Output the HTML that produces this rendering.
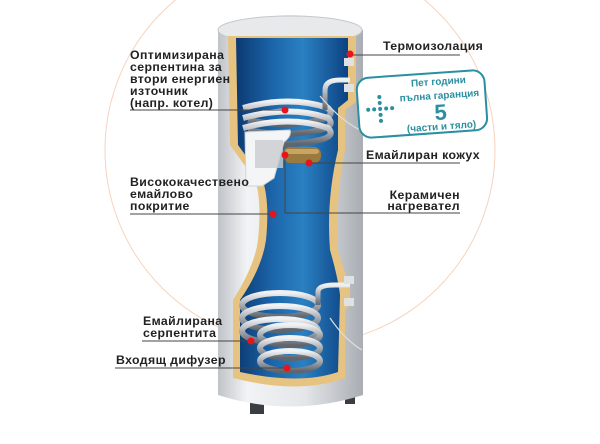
<!DOCTYPE html>
<html><head><meta charset="utf-8"><style>
html,body{margin:0;padding:0;background:#fff}
svg{display:block}
text{font-family:"Liberation Sans",sans-serif;font-weight:bold;fill:#222;font-size:12.3px;letter-spacing:0.4px}
</style></head><body>
<svg width="600" height="444" viewBox="0 0 600 444" xmlns="http://www.w3.org/2000/svg">
<defs>
<linearGradient id="shell" x1="0" x2="1">
<stop offset="0" stop-color="#bfc3c8"/><stop offset="0.2" stop-color="#f2f3f5"/><stop offset="0.6" stop-color="#e4e6e9"/><stop offset="1" stop-color="#a9adb3"/></linearGradient>
<linearGradient id="blue" x1="0" x2="1">
<stop offset="0" stop-color="#0b3a72"/><stop offset="0.35" stop-color="#1d68ad"/><stop offset="0.6" stop-color="#2a80c2"/><stop offset="1" stop-color="#0c4282"/></linearGradient>
<linearGradient id="coil" x1="0" x2="0" y1="0" y2="1">
<stop offset="0" stop-color="#f0f1f3"/><stop offset="0.5" stop-color="#a6abb2"/><stop offset="1" stop-color="#5f656d"/></linearGradient>
</defs>
<circle cx="300" cy="150" r="195" fill="none" stroke="#f6d3bf" stroke-width="1"/>
<rect x="250" y="400" width="14" height="14" fill="#3a3d42"/>
<rect x="345" y="392" width="10" height="12" fill="#3a3d42"/>
<path d="M218 30 Q290 0 363 30 L363 395 Q290 418 218 395 Z" fill="url(#shell)"/>
<ellipse cx="290" cy="30" rx="72" ry="14" fill="#e8e9eb" stroke="#c5c8cc"/>
<path d="M228 36 L356 36 L356 102 L345 110 L345 150 Q335 200 338 250 Q345 275 350 285 L350 305 L345 310 L345 378 Q300 395 233 378 L233 300 Q255 265 258 240 Q262 200 255 180 L230 145 Z" fill="#e7c382"/>
<path d="M236 38 L348 38 L348 100 L338 108 L338 150 Q326 200 330 250 Q338 278 340 295 L338 372 Q300 385 240 372 L240 300 Q262 268 266 240 Q270 200 262 178 L238 145 Z" fill="url(#blue)"/>
<g fill="none" stroke="url(#coil)" stroke-width="6">
<path d="M243 108 Q290 95 328 108 Q336 116 320 120 Q285 128 248 120"/>
<path d="M243 118 Q290 105 328 118 Q336 126 320 130 Q285 138 248 130"/>
<path d="M243 128 Q290 115 328 128 Q336 136 320 140 Q285 148 248 140"/>
<path d="M325 110 L325 90 Q325 80 340 80 L350 80" stroke-width="5"/>
</g>
<path d="M245 132 L290 130 Q292 136 284 142 L274 178 L262 186 L246 186 Z" fill="#f4f5f6" stroke="#d0d3d6"/>
<rect x="255" y="140" width="28" height="28" fill="#c9ccd0" opacity="0.8"/>
<rect x="283" y="147" width="38" height="16" rx="7" fill="#9a7a3e"/>
<rect x="285" y="149" width="34" height="5" rx="3" fill="#c8a560"/>
<g fill="none" stroke="url(#coil)" stroke-width="6">
<ellipse cx="280" cy="305" rx="38" ry="12"/>
<ellipse cx="280" cy="318" rx="38" ry="12"/>
<ellipse cx="280" cy="331" rx="38" ry="12"/>
<ellipse cx="290" cy="335" rx="30" ry="10"/>
<ellipse cx="290" cy="348" rx="30" ry="10"/>
<ellipse cx="290" cy="361" rx="30" ry="10"/>
<path d="M318 305 L318 292 Q318 285 335 285 L350 285" stroke-width="5"/>
</g>
<g fill="#dfe2e5">
<rect x="344" y="58" width="10" height="8"/><rect x="344" y="84" width="10" height="8"/>
<rect x="344" y="276" width="10" height="8"/><rect x="344" y="298" width="10" height="8"/>
</g>
<path d="M320 96 Q340 120 360 130" fill="none" stroke="#ddd" stroke-width="1.2"/>
<path d="M330 318 Q345 340 362 350" fill="none" stroke="#ddd" stroke-width="1.2"/>
<g stroke="#444" stroke-width="1" fill="none">
<line x1="350" y1="55" x2="460" y2="55"/>
<line x1="130" y1="110" x2="285" y2="110"/>
<line x1="309" y1="163" x2="460" y2="163"/>
<line x1="130" y1="214" x2="273" y2="214"/>
<polyline points="285,155 285,213 460,213"/>
<line x1="142" y1="341" x2="251" y2="341"/>
<line x1="115" y1="368" x2="287" y2="368"/>
</g>
<g fill="#e8141c">
<circle cx="350" cy="54" r="3.5"/><circle cx="285" cy="110" r="3.5"/>
<circle cx="285" cy="155" r="3.5"/><circle cx="309" cy="163" r="3.5"/>
<circle cx="273" cy="214" r="3.5"/><circle cx="251" cy="341" r="3.5"/>
<circle cx="287" cy="368" r="3.5"/>
</g>
<text x="383" y="50">Термоизолация</text>
<text x="130" y="59">Оптимизирана</text>
<text x="130" y="71">серпентина за</text>
<text x="130" y="83">втори енергиен</text>
<text x="130" y="95">източник</text>
<text x="130" y="107">(напр. котел)</text>
<text x="366" y="159">Емайлиран кожух</text>
<text x="130" y="186">Висококачествено</text>
<text x="130" y="198">емайлово</text>
<text x="130" y="210">покритие</text>
<text x="460" y="199" text-anchor="end">Керамичен</text>
<text x="460" y="210" text-anchor="end">нагревател</text>
<text x="143" y="325">Емайлирана</text>
<text x="143" y="337">серпентита</text>
<text x="116" y="364">Входящ дифузер</text>
<g transform="rotate(-4 422 105)">
<rect x="358" y="74" width="128" height="60" rx="12" fill="#fff" stroke="#2a8fa0" stroke-width="2"/>
<g fill="#2a8fa0"><circle cx="380" cy="94" r="2"/><circle cx="380" cy="100" r="2"/><circle cx="380" cy="106" r="2"/><circle cx="380" cy="112" r="2"/><circle cx="380" cy="118" r="2"/><circle cx="368" cy="106" r="2"/><circle cx="374" cy="106" r="2"/><circle cx="386" cy="106" r="2"/><circle cx="392" cy="106" r="2"/></g>
<text x="440" y="86" text-anchor="middle" style="fill:#2a8fa0;font-size:10px;letter-spacing:0">Пет години</text>
<text x="440" y="100" text-anchor="middle" style="fill:#2a8fa0;font-size:10px;letter-spacing:0">пълна гаранция</text>
<text x="440" y="121" text-anchor="middle" style="fill:#2a8fa0;font-size:22px;letter-spacing:0">5</text>
<text x="440" y="131" text-anchor="middle" style="fill:#2a8fa0;font-size:10px;letter-spacing:0">(части и тяло)</text>
</g>
</svg>
</body></html>
